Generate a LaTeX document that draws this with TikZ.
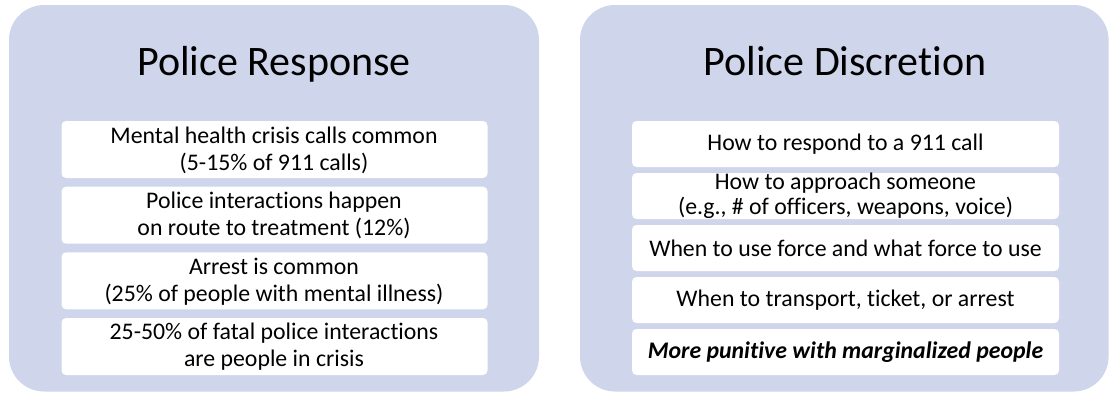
\documentclass[tikz,border=0pt]{standalone}
\usepackage{fontspec}
\setmainfont{Carlito}[Ligatures=NoCommon]
\definecolor{panelfill}{RGB}{207,213,234}
\tikzset{
  panel/.style={fill=panelfill, draw=none, rounded corners=35pt},
  itembox/.style={fill=white, draw=none, rounded corners=4.5pt},
  itemtext/.style={align=center, font=\fontsize{23.8}{27}\selectfont, inner sep=0pt},
  titletext/.style={font=\fontsize{42}{48}\selectfont, inner sep=0pt, anchor=base}
}
\begin{document}
\begin{tikzpicture}[x=1pt,y=-1pt]
\useasboundingbox (0,0) rectangle (1109,392);
% panels
\fill[panel] (9,5) rectangle (539,391.5);
\fill[panel] (580,5) rectangle (1108.6,391.5);
% titles
\node[titletext] (t1) at (274,75) {Police Response};
\node[titletext] (t2) at (845,75) {Police Discretion};
% left boxes
\fill[itembox] (61.5,121) rectangle (487.5,178);
\fill[itembox] (61.5,186.7) rectangle (487.5,243.7);
\fill[itembox] (61.5,252.3) rectangle (487.5,309.3);
\fill[itembox] (61.5,318) rectangle (487.5,375);
\node[itemtext] (l1) at (274,150) {Mental health crisis calls common\\(5-15\% of 911 calls)};
\node[itemtext] (l2) at (274,215.7) {Police interactions happen\\on route to treatment (12\%)};
\node[itemtext] (l3) at (274,281.3) {Arrest is common\\(25\% of people with mental illness)};
\node[itemtext] (l4) at (274,347) {25-50\% of fatal police interactions\\are people in crisis};
% right boxes
\fill[itembox] (632,121) rectangle (1059,167);
\fill[itembox] (632,173) rectangle (1059,219);
\fill[itembox] (632,225) rectangle (1059,271);
\fill[itembox] (632,277) rectangle (1059,323);
\fill[itembox] (632,329) rectangle (1059,375);
\node[itemtext] (r1) at (845.5,144.5) {How to respond to a 911 call};
\node[itemtext, font=\fontsize{23.8}{24.5}\selectfont] (r2) at (845.5,196) {How to approach someone\\(e.g., \# of officers, weapons, voice)};
\node[itemtext] (r3) at (845.5,248.5) {When to use force and what force to use};
\node[itemtext] (r4) at (845.5,300.5) {When to transport, ticket, or arrest};
\node[itemtext, font=\fontsize{23.8}{27}\selectfont\bfseries\itshape] (r5) at (845.5,352.5) {More punitive with marginalized people};
\end{tikzpicture}
\end{document}
